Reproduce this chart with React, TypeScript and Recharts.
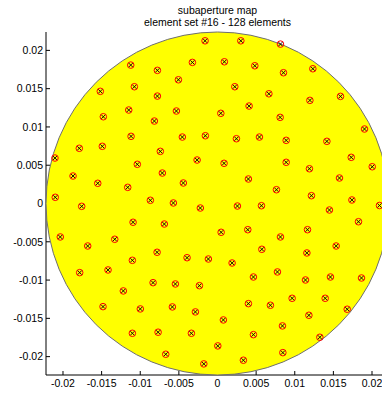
import { ScatterChart, Scatter, XAxis, YAxis, ReferenceDot } from "recharts";

// element centres (m)
const elemX = [
  -0.00161, -0.01123, -0.00325, -0.00778, -0.00506, -0.01517, -0.01076, -0.00778,
  -0.01149, -0.00532, -0.01478, -0.00817, -0.01119, -0.00455, -0.00157, -0.01789,
  -0.01491, -0.0074, -0.02104, -0.00264, -0.01038, -0.0187, -0.00714, -0.0155,
  -0.01162, -0.00442, -0.021, -0.00869, -0.01758, -0.00571, -0.00222,
  0.00302, 0.00815, 0.00089, 0.00483, 0.00854, 0.01234, 0.00224, 0.00665,
  0.01196, 0.01592, 0.00409, 0.00043, 0.00811, 0.01903, 0.00245, 0.00543,
  0.00889, 0.01416, 0.01731, 0.00085, 0.00889, 0.0119, 0.02003, 0.004,
  0.01579, 0.00763, 0.01216, 0.0174, 0.00258, 0.00569, 0.01449, 0.02097,
  -0.01093, -0.00688, -0.02035, -0.0168, -0.0133, -0.00782, -0.01102, -0.00394,
  -0.00118, -0.01784, -0.01417, -0.00834, -0.00545, -0.00234, -0.01219, -0.01482,
  -0.00999, -0.00584, -0.00286, -0.01102, -0.00769, -0.00338, -0.0067, -0.00177,
  0.00047, 0.00392, 0.00815, 0.01165, 0.01825, 0.00574, 0.01157, 0.01536,
  0.00189, 0.00776, 0.00465, 0.01139, 0.01462, 0.01864, 0.004, 0.00685,
  0.00966, 0.01394, 0.01679, 0.00076, 0.01183, 0.00465, 0.00841, 0.01325,
  0.00004, 0.00846, 0.00335,
];
const elemY = [
  0.02125, 0.01808, 0.01843, 0.01739, 0.01616, 0.01465, 0.01525, 0.01403,
  0.01221, 0.01208, 0.01133, 0.01077, 0.00877, 0.00868, 0.00885, 0.00721,
  0.00747, 0.00681, 0.00594, 0.00568, 0.00512, 0.00359, 0.00398, 0.00264,
  0.00211, 0.00268, 0.00081, 0.00042, -0.00037, 0.00007, -0.00059,
  0.02125, 0.02082, 0.01851, 0.01799, 0.01708, 0.0176, 0.01525, 0.01433,
  0.01347, 0.01399, 0.01273, 0.01178, 0.01125, 0.00973, 0.00846, 0.00868,
  0.00825, 0.00812, 0.00603, 0.00525, 0.00538, 0.00454, 0.0048, 0.0032,
  0.00333, 0.0018, 0.00102, 0.00046, -0.00033, -0.00029, -0.00085, -0.00026,
  -0.00245, -0.00268, -0.00437, -0.00555, -0.00467, -0.00637, -0.00742, -0.00708,
  -0.00725, -0.00903, -0.00868, -0.01034, -0.01051, -0.01073, -0.01142, -0.01347,
  -0.01377, -0.01351, -0.01416, -0.01695, -0.01681, -0.01695, -0.01969, -0.02095,
  -0.00376, -0.00342, -0.00437, -0.00342, -0.00238, -0.00598, -0.00646, -0.00555,
  -0.00777, -0.00894, -0.0096, -0.00999, -0.0096, -0.00973, -0.01308, -0.01329,
  -0.01238, -0.01238, -0.01381, -0.01521, -0.0146, -0.01713, -0.01599, -0.01747,
  -0.0186, -0.01948, -0.02047,
];

const axisTicks = [-0.02, -0.015, -0.01, -0.005, 0, 0.005, 0.01, 0.015, 0.02];
const apertureRadius = 0.0222;
const titleLines = ["subaperture map", "element set #16 - 128 elements"];

const xDomain: [number, number] = [-0.0222, 0.0222];
const yDomain: [number, number] = [-0.0224, 0.0224];

const points = elemX.map((x, i) => ({ x, y: elemY[i] }));

const font = "'Liberation Sans', Arial, Helvetica, sans-serif";
const tickStyle = { fill: "#000", fontSize: 10.5, fontFamily: font };

const W = 389;
const H = 394;
const plotLeft = 46;
const plotW = W - plotLeft;
const radiusPx = (apertureRadius / (xDomain[1] - xDomain[0])) * plotW;

function ElementMarker(props: any) {
  const { cx, cy } = props;
  if (cx == null || cy == null) return null;
  const a = 2;
  return (
    <g>
      <circle cx={cx} cy={cy} r={3.3} fill="none" stroke="#ff0000" strokeWidth={1} />
      <path
        d={`M${cx - a},${cy - a}L${cx + a},${cy + a}M${cx - a},${cy + a}L${cx + a},${cy - a}`}
        stroke="#000"
        strokeWidth={0.9}
      />
    </g>
  );
}

export default function App() {
  return (
    <div style={{ position: "absolute", left: 0, top: 0, width: 382, height: 394, overflow: "hidden", background: "#fff" }}>
      <ScatterChart width={W} height={H} margin={{ top: 32, right: 0, bottom: 0, left: 0 }}>
        <XAxis
          type="number"
          dataKey="x"
          domain={xDomain}
          ticks={axisTicks}
          allowDataOverflow
          height={19}
          tickSize={-4}
          tickMargin={9}
          axisLine={{ stroke: "#000" }}
          tickLine={{ stroke: "#000" }}
          tick={tickStyle}
        />
        <YAxis
          type="number"
          dataKey="y"
          domain={yDomain}
          ticks={axisTicks}
          allowDataOverflow
          width={plotLeft}
          tickSize={-4}
          tickMargin={7}
          axisLine={{ stroke: "#000" }}
          tickLine={{ stroke: "#000" }}
          tick={tickStyle}
        />
        <ReferenceDot x={0} y={0} r={radiusPx} fill="#ffff00" stroke="#6e6e6e" strokeWidth={1} ifOverflow="visible" />
        <Scatter data={points} shape={ElementMarker} isAnimationActive={false} />
      </ScatterChart>
      <svg width={382} height={32} style={{ position: "absolute", left: 0, top: 0 }}>
        {titleLines.map((t, i) => (
          <text key={t} x={217.5} y={13.5 + i * 12.3} textAnchor="middle" fontSize={10.5} fontFamily={font} fill="#000">
            {t}
          </text>
        ))}
      </svg>
    </div>
  );
}
